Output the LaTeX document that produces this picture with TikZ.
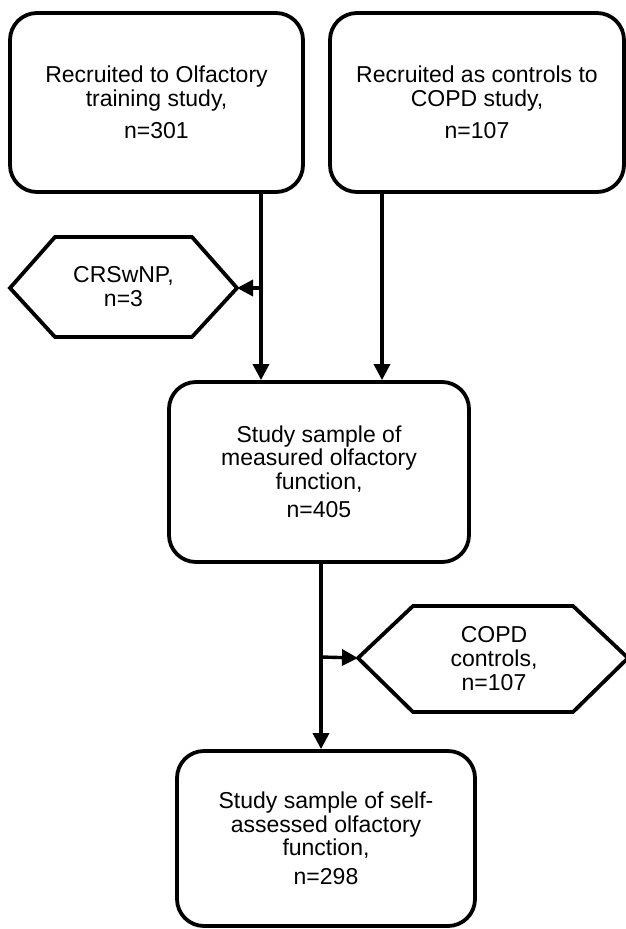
\documentclass[tikz,border=0pt]{standalone}
\usepackage{fontspec}
\setmainfont{Liberation Sans}
\usetikzlibrary{arrows.meta}
\begin{document}
\begin{tikzpicture}[x=1pt,y=-1pt,
  box/.style={draw, line width=3.8pt, rounded corners=27pt, inner sep=0pt, align=center, font=\fontsize{23}{23.5}\selectfont},
  hexline/.style={draw, line width=3.8pt, line join=miter},
  txt/.style={align=center, inner sep=0pt, font=\fontsize{23}{24}\selectfont},
  conn/.style={line width=3.4pt},
  arr/.style={conn, -{Triangle[length=16pt,width=16pt]}}
]
\useasboundingbox (0,0) rectangle (626,929);

% boxes
\node[box, minimum width=293pt, minimum height=179pt] (b1) at (156.5,102.5)
  {Recruited to Olfactory\\training study,\\[9pt]n=301};
\node[box, minimum width=294pt, minimum height=179pt] (b2) at (477,102.5)
  {Recruited as controls to\\COPD study,\\[9pt]n=107};
\node[box, minimum width=300pt, minimum height=180pt] (b3) at (319,472)
  {Study sample of\\measured olfactory\\function,\\[5pt]n=405};
\node[box, minimum width=298pt, minimum height=175pt] (b4) at (326,838.5)
  {Study sample of self-\\assessed olfactory\\function,\\[5pt]n=298};

% hexagon 1
\coordinate (h1w) at (10,288);
\coordinate (h1e) at (237,288);
\draw[hexline] (h1w) -- (55,237) -- (192,237) -- (h1e) -- (192,337) -- (55,337) -- cycle;
\node[txt] (h1) at (123.5,287) {CRSwNP,\\n=3};

% hexagon 2
\coordinate (h2w) at (358,658);
\coordinate (h2e) at (628,658);
\draw[hexline] (h2w) -- (413,606) -- (573,606) -- (h2e) -- (573,712) -- (413,712) -- cycle;
\node[txt] (h2) at (494,658.5) {COPD\\controls,\\n=107};

% connectors
\coordinate (j1) at (261,288);
\coordinate (k2) at (382,300);
\coordinate (j2) at (321,657);
\draw[arr] (b1.south -| j1) -- (b3.north -| j1);
\draw[arr] (j1) -- (h1e);
\draw[arr] (b2.south -| k2) -- (b3.north -| k2);
\draw[arr] (b3.south -| j2) -- (b4.north -| j2);
\draw[arr] (j2) -- (h2w);
\end{tikzpicture}
\end{document}
